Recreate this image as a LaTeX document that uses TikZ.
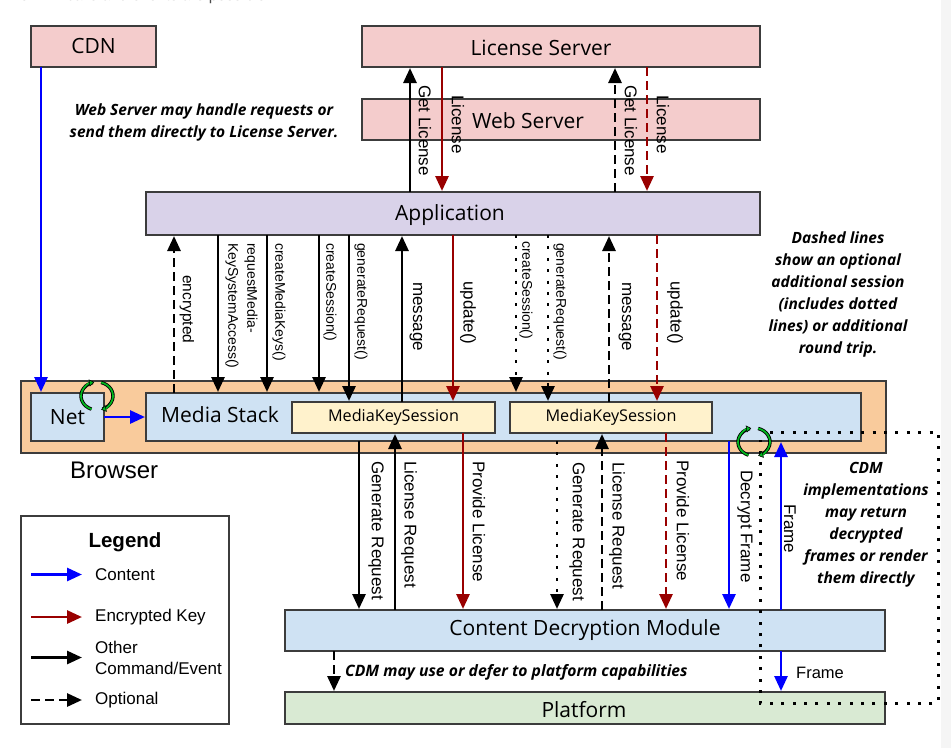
\documentclass[tikz,border=0pt]{standalone}
\usepackage{fontspec}
\setmainfont{Liberation Sans}
\newfontfamily\boxfont{Open Sans}
\usetikzlibrary{arrows.meta,calc}
\definecolor{pinkbox}{HTML}{F4CCCC}
\definecolor{purplebox}{HTML}{D9D2E9}
\definecolor{orangebox}{HTML}{F9CB9C}
\definecolor{bluebox}{HTML}{CFE2F3}
\definecolor{creambox}{HTML}{FFF2CC}
\definecolor{greenbox}{HTML}{D9EAD3}
\definecolor{keyred}{HTML}{990000}
\definecolor{contentblue}{HTML}{0000FF}
\definecolor{spingreen}{HTML}{00B81E}
\definecolor{edgegray}{HTML}{3C3C3C}
\tikzset{
  box/.style={draw=edgegray,line width=1.5pt,inner sep=0pt,outer sep=0pt,font=\boxfont\fontsize{21}{25}\selectfont},
  flow/.style={line width=2.8pt,-{Triangle[length=15pt,width=13pt]},shorten >=1pt},
  black flow/.style={flow,draw=black},
  red flow/.style={flow,draw=keyred,-{Triangle[length=15pt,width=13pt,color=keyred]}},
  blue flow/.style={flow,draw=contentblue,-{Triangle[length=15pt,width=13pt,color=contentblue]}},
  optional/.style={dash pattern=on 9pt off 5pt},
  dotty/.style={dash pattern=on 3pt off 8.4pt},
  vlabel/.style={rotate=-90,anchor=west,inner sep=0pt,font=\fontsize{17}{20}\selectfont},
  vsmall/.style={vlabel,font=\fontsize{14}{17}\selectfont},
  vmid/.style={vlabel,font=\fontsize{15.5}{18}\selectfont},
  note/.style={align=center,inner sep=0pt,font=\boxfont\bfseries\itshape\fontsize{15.5}{22}\selectfont},
  legendtext/.style={anchor=west,inner sep=0pt,align=left,font=\fontsize{17}{21}\selectfont},
  boxlabel/.style={inner sep=0pt,font=\boxfont\fontsize{21}{25}\selectfont},
}
\newcommand{\spinarrows}[2]{%
  \draw[line width=3.4pt,black] ($(#1,#2)+(-250:16 and 14)$) arc[start angle=-250,end angle=-105,x radius=16,y radius=14];
  \draw[line width=3.4pt,black] ($(#1,#2)+(-75:16 and 14)$) arc[start angle=-75,end angle=70,x radius=16,y radius=14];
  \draw[line width=1.7pt,spingreen,-{Triangle[length=5pt,width=7pt,fill=spingreen,color=black,line width=.5pt]}] ($(#1,#2)+(-250:16 and 14)$) arc[start angle=-250,end angle=-100,x radius=16,y radius=14];
  \draw[line width=1.7pt,spingreen,-{Triangle[length=5pt,width=7pt,fill=spingreen,color=black,line width=.5pt]}] ($(#1,#2)+(-75:16 and 14)$) arc[start angle=-75,end angle=75,x radius=16,y radius=14];
}
\begin{document}
\begin{tikzpicture}[x=1pt,y=-1pt]
\useasboundingbox (0,0) rectangle (951,748);
\fill[white] (0,0) rectangle (951,748);
\fill[black!4] (941,0) rectangle (951,748);
\begin{scope}
\clip (0,0) rectangle (951,748);
\node[anchor=base west,inner sep=0pt,text=black!70,font=\fontsize{15.5}{18}\selectfont] (topline) at (20,0.5) {of API calls and events are possible.};
\end{scope}

% boxes
\node[box,fill=pinkbox,minimum width=125,minimum height=41] (cdn) at (93.5,46.5) {};
\node[boxlabel] (cdnlabel) at (93.5,45.5) {CDN};
\node[box,fill=pinkbox,minimum width=398,minimum height=41] (license) at (561,46.5) {};
\node[boxlabel] (licenselabel) at (541,48) {License Server};
\node[box,fill=pinkbox,minimum width=398,minimum height=41] (web) at (561,119.5) {};
\node[boxlabel] (weblabel) at (528,121) {Web Server};
\node[box,fill=purplebox,minimum width=614,minimum height=43] (app) at (453,213.5) {};
\node[boxlabel] (applabel) at (450,215) {Application};
\node[box,fill=orangebox,minimum width=865,minimum height=72] (browser) at (453.5,417) {};
\node[box,fill=bluebox,minimum width=73,minimum height=48] (net) at (67.5,417) {Net};
\node[box,fill=bluebox,minimum width=715,minimum height=48] (media) at (503.5,417) {};
\node[boxlabel] (medialabel) at (220,415) {Media Stack};
\node[box,fill=creambox,minimum width=203,minimum height=31,font=\boxfont\fontsize{16.2}{19}\selectfont] (mksa) at (393.5,417.5) {MediaKeySession};
\node[box,fill=creambox,minimum width=202,minimum height=31,font=\boxfont\fontsize{16.2}{19}\selectfont] (mksb) at (611,417.5) {MediaKeySession};
\node[box,fill=bluebox,minimum width=600,minimum height=41] (cdm) at (585,630.5) {};
\node[boxlabel] (cdmlabel) at (585,630) {Content Decryption Module};
\node[box,fill=greenbox,minimum width=600,minimum height=32] (platform) at (585,708) {};
\node[boxlabel] (platformlabel) at (584,710) {Platform};
\node[anchor=base west,inner sep=0pt,font=\fontsize{24}{28}\selectfont] (browserlabel) at (70,478) {Browser};

% top connectors
\draw[blue flow] (41,0 |- cdn.south) -- (41,0 |- net.north);
\draw[blue flow] (net.east) -- (media.west);
\draw[black flow] (410,0 |- app.north) -- (410,0 |- license.south);
\draw[red flow] (442,0 |- license.south) -- (442,0 |- app.north);
\draw[black flow,optional] (615,0 |- app.north) -- (615,0 |- license.south);
\draw[red flow,optional] (647,0 |- license.south) -- (647,0 |- app.north);
\node[vlabel] (l1) at (425,85) {Get License};
\node[vlabel] (l2) at (458,95) {License};
\node[vlabel] (l3) at (631,85) {Get License};
\node[vlabel] (l4) at (663,95) {License};

% application <-> media stack
\draw[black flow,optional] (174,0 |- media.north) -- (174,0 |- app.south);
\draw[black flow] (218,0 |- app.south) -- (218,0 |- media.north);
\draw[black flow] (267,0 |- app.south) -- (267,0 |- media.north);
\draw[black flow] (319,0 |- app.south) -- (319,0 |- media.north);
\draw[black flow] (349,0 |- app.south) -- (349,0 |- mksa.north);
\draw[black flow] (402,0 |- mksa.north) -- (402,0 |- app.south);
\draw[red flow] (453,0 |- app.south) -- (453,0 |- mksa.north);
\draw[black flow,dotty] (516,0 |- app.south) -- (516,0 |- media.north);
\draw[black flow,dotty] (548,0 |- app.south) -- (548,0 |- mksb.north);
\draw[black flow,optional] (609,0 |- mksb.north) -- (609,0 |- app.south);
\draw[red flow,optional] (657,0 |- app.south) -- (657,0 |- mksb.north);
\node[vmid] (m1) at (187,275) {encrypted};
\node[vsmall] (m2) at (251,243) {requestMedia-};
\node[vsmall] (m3) at (232,243) {KeySystemAccess()};
\node[vsmall] (m4) at (279,243) {createMediaKeys()};
\node[vsmall] (m5) at (330,243) {createSession()};
\node[vsmall] (m6) at (361,243) {generateRequest()};
\node[vlabel] (m7) at (416,282) {message};
\node[vlabel] (m8) at (468,281) {update()};
\node[vsmall] (m9) at (526,241) {createSession()};
\node[vsmall] (m10) at (560,243) {generateRequest()};
\node[vlabel] (m11) at (625,282) {message};
\node[vlabel] (m12) at (675,281) {update()};

% media stack <-> CDM
\draw[black flow] (359,0 |- media.south) -- (359,0 |- cdm.north);
\draw[black flow] (395,0 |- cdm.north) -- (395,0 |- mksa.south);
\draw[red flow] (463,0 |- mksa.south) -- (463,0 |- cdm.north);
\draw[black flow,dotty] (557,0 |- media.south) -- (557,0 |- cdm.north);
\draw[black flow,optional] (602,0 |- cdm.north) -- (602,0 |- mksb.south);
\draw[red flow,optional] (666,0 |- mksb.south) -- (666,0 |- cdm.north);
\draw[blue flow] (729,0 |- media.south) -- (729,0 |- cdm.north);
\draw[blue flow] (781,0 |- cdm.north) -- (781,0 |- media.south);
\draw[blue flow] (781,0 |- cdm.south) -- (781,0 |- platform.north);
\draw[black flow,optional] (334,0 |- cdm.south) -- (334,0 |- platform.north);
\node[vlabel] (b1) at (376,461) {Generate Request};
\node[vlabel] (b2) at (409,461) {License Request};
\node[vlabel] (b3) at (479,461) {Provide License};
\node[vlabel] (b4) at (577,462) {Generate Request};
\node[vlabel] (b5) at (617,462) {License Request};
\node[vlabel] (b6) at (683,460) {Provide License};
\node[vlabel] (b7) at (745,470) {Decrypt Frame};
\node[vlabel] (b8) at (790,504) {Frame};
\node[anchor=west,inner sep=0pt,font=\fontsize{16.5}{19}\selectfont] (b9) at (796,673) {Frame};

% dotted render path
\coordinate (dotstart) at (770,432);
\coordinate (dotne) at (938,432);
\coordinate (dotse) at (938,703);
\coordinate (dotsw) at (760,703);
\coordinate (dotend) at (760,440);
\draw[line width=3pt,dotty] (dotstart) -- (dotne) -- (dotse) -- (dotsw) -- (dotend);

\spinarrows{97}{396}
\spinarrows{754}{442}

% notes
\node[note] (n1) at (204,122) {Web Server may handle requests or\\send them directly to License Server.};
\node[note] (n2) at (838,294.5) {Dashed lines\\show an optional\\additional session\\(includes dotted\\lines) or additional\\round trip.};
\node[note] (n3) at (866,525) {CDM\\implementations\\may return\\decrypted\\frames or render\\them directly};
\node[note,anchor=west,font=\boxfont\bfseries\itshape\fontsize{15.7}{22}\selectfont] (n4) at (345,672) {CDM may use or defer to platform capabilities};

% legend
\node[draw=edgegray,line width=1.5pt,fill=white,minimum width=208,minimum height=208,inner sep=0pt] (legend) at (125,620) {};
\node[inner sep=0pt,font=\bfseries\fontsize{20.5}{24}\selectfont] (legendtitle) at (125,542) {Legend};
\node[legendtext] (lg1) at (95,574.5) {Content};
\node[legendtext] (lg2) at (95,617) {Encrypted Key};
\node[legendtext] (lg3) at (95,657.5) {Other\\Command/Event};
\node[legendtext] (lg4) at (95,700) {Optional};
\draw[blue flow] ([xshift=-64]lg1.west) -- ([xshift=-12]lg1.west);
\draw[red flow] ([xshift=-64]lg2.west) -- ([xshift=-12]lg2.west);
\draw[black flow] ([xshift=-64]lg3.west) -- ([xshift=-12]lg3.west);
\draw[black flow,optional] ([xshift=-64]lg4.west) -- ([xshift=-12]lg4.west);
\end{tikzpicture}
\end{document}
